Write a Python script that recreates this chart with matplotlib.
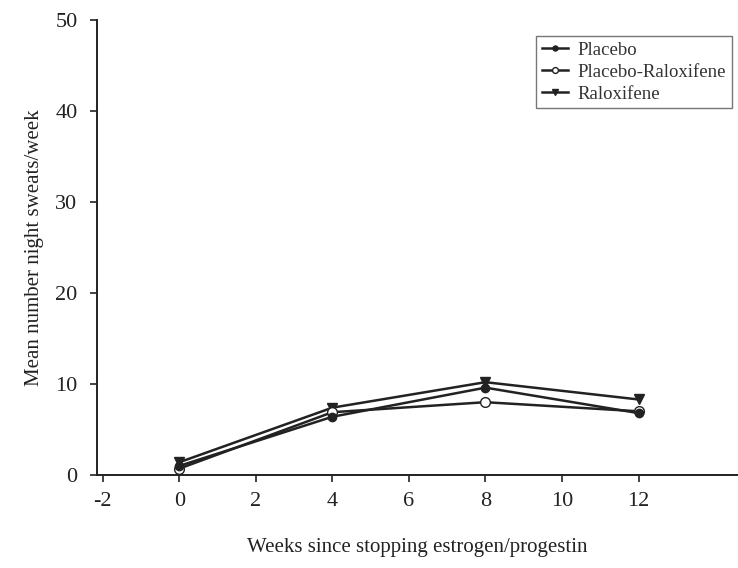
import numpy as np
import matplotlib
matplotlib.use("Agg")
import matplotlib.pyplot as plt

weeks = [0, 4, 8, 12]
placebo = [1.0, 6.4, 9.6, 6.8]
placebo_ralox = [0.7, 6.9, 8.0, 7.0]
raloxifene = [1.4, 7.4, 10.2, 8.3]

plt.rcParams["font.family"] = ["Liberation Serif", "DejaVu Serif"]
plt.rcParams["axes.unicode_minus"] = False

fig = plt.figure(figsize=(7.38, 5.68), dpi=100)
ax = fig.add_axes([97/738, 93/568, 1 - 97/738, (475 - 20)/568])

lc = "#222222"
ax.plot(weeks, raloxifene, color=lc, lw=1.8, marker="v", ms=7,
        mfc=lc, mec=lc, label="Raloxifene", zorder=3)
ax.plot(weeks, placebo_ralox, color=lc, lw=1.8, marker="o", ms=7,
        mfc="white", mec=lc, label="Placebo-Raloxifene", zorder=4)
ax.plot(weeks, placebo, color=lc, lw=1.8, marker="o", ms=6,
        mfc=lc, mec=lc, label="Placebo", zorder=5)

ax.set_xlim(-2.15, 14.6)
ax.set_ylim(0, 50)
ax.set_xticks([-2, 0, 2, 4, 6, 8, 10, 12])
ax.set_yticks([0, 10, 20, 30, 40, 50])
ax.spines["top"].set_visible(False)
ax.spines["right"].set_visible(False)
for s in ["left", "bottom"]:
    ax.spines[s].set_linewidth(1.4)
    ax.spines[s].set_color(lc)
ax.tick_params(axis="both", labelsize=16, length=5, width=1.2, color=lc, labelcolor=lc)
ax.tick_params(axis="y", pad=9)
ax.tick_params(axis="x", pad=7)

ax.set_xlabel("Weeks since stopping estrogen/progestin", fontsize=15, color=lc, labelpad=20)
ax.set_ylabel("Mean number night sweats/week", fontsize=15, color=lc, labelpad=8)

h, l = ax.get_legend_handles_labels()
order = [2, 1, 0]
leg = ax.legend([h[i] for i in order], [l[i] for i in order],
                loc="upper right", bbox_to_anchor=(1.005, 0.985), fontsize=13.5,
                frameon=True, fancybox=False, edgecolor="#555555",
                handlelength=1.4, handletextpad=0.5, borderpad=0.3,
                labelspacing=0.25, markerscale=0.6)
leg.get_frame().set_linewidth(1.0)
for t in leg.get_texts():
    t.set_color("#333333")

fig.savefig("out.png", dpi=100)
